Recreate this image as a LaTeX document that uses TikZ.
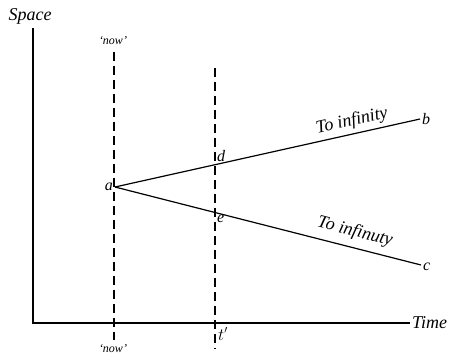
\documentclass[tikz,border=0pt]{standalone}
\usepackage{fontspec}
\setmainfont{Liberation Serif}
\usepackage{tikz}
\usetikzlibrary{positioning, calc}

\begin{document}
\begin{tikzpicture}[
  x=1pt, y=-1pt,
  axis/.style={line width=1.3pt},
  ray/.style={line width=1.2pt},
  timeline/.style={line width=1.1pt, dash pattern=on 9pt off 5pt},
  lbl/.style={font=\itshape\fontsize{16}{16}\selectfont, inner sep=1pt},
  axislbl/.style={font=\itshape\fontsize{18}{18}\selectfont, inner sep=1pt},
  nowlbl/.style={font=\itshape\fontsize{12}{12}\selectfont, inner sep=1pt}
]
\useasboundingbox (0,0) rectangle (458,357);
% axes
\coordinate (o) at (33,323);
\coordinate (sp) at (33,28);
\coordinate (tm) at (410,323);
\draw[axis] (sp) -- (o) -- (tm);
\node[axislbl] (space) at (30,16) {Space};
\node[axislbl, right=1pt of tm] (time) {Time};
% the two time lines
\coordinate (now1) at (114,52);
\coordinate (now2) at (114,340);
\coordinate (tp1) at (215,68);
\coordinate (tp2) at (215,349);
\draw[timeline] (now1) -- (now2);
\draw[timeline] (tp1) -- (tp2);
\node[nowlbl] (nowtop) at (113,41) {`now'};
\node[nowlbl] (nowbot) at (113,349) {`now'};
\node[lbl, anchor=west] (tprime) at (217,334) {$t'$};
% rays from a
\coordinate (a) at (115,187);
\coordinate (b) at (420,119);
\coordinate (c) at (421,265);
\draw[ray] (a) -- (b);
\draw[ray] (a) -- (c);
\node[lbl, left=1pt of a] (la) {a};
\node[lbl, right=1pt of b] (lb) {b};
\node[lbl, right=1pt of c, yshift=-2pt] (lc) {c};
\node[lbl, anchor=south west] (ld) at (216,163) {d};
\node[lbl, anchor=north west] (le) at (216,214) {e};
\node[axislbl, rotate=12.5] (inf1) at (352,121) {To infinity};
\node[axislbl, rotate=-14.3] (inf2) at (355,232) {To infinuty};
\end{tikzpicture}
\end{document}
